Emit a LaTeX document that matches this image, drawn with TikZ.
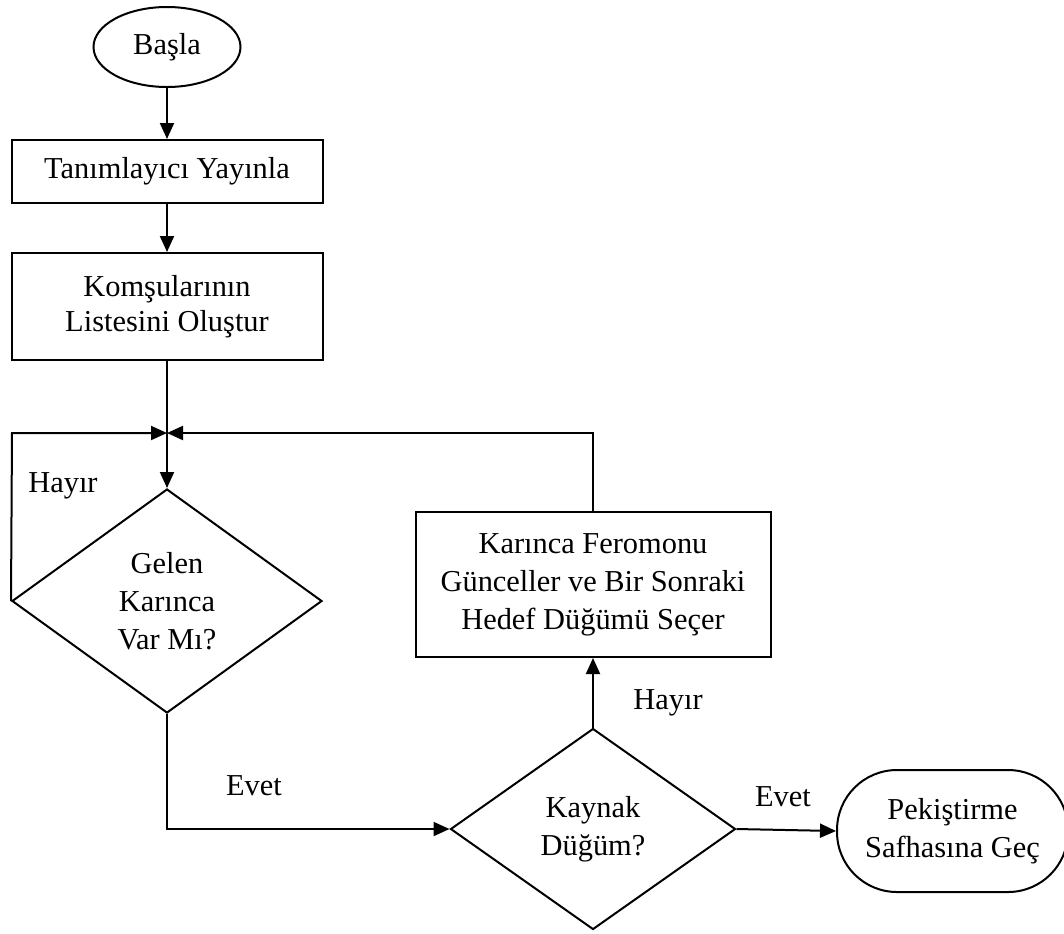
\documentclass[tikz,border=0pt]{standalone}
\usepackage{fontspec}
\setmainfont{Liberation Serif}
\usetikzlibrary{shapes.geometric,arrows.meta}

\begin{document}
\begin{tikzpicture}[x=0.5pt,y=-0.5pt,line width=1pt,
    font=\fontsize{15.2pt}{19pt}\selectfont,
    kutu/.style={draw,rectangle,align=center,inner sep=0pt},
    karar/.style={draw,diamond,align=center,inner sep=0pt},
    ok/.style={-{Triangle[length=8pt,width=7pt]}}]
      \useasboundingbox (0,0) rectangle (1064,933);
      \node [draw,ellipse,minimum width=73.5pt,minimum height=40pt,inner sep=0pt] (basla) at (167,47) {Başla};
      \node [kutu,minimum width=155.5pt,minimum height=31.5pt] (tanim) at (167,171.5) {Tanımlayıcı Yayınla};
      \node [kutu,minimum width=155.5pt,minimum height=53.5pt,font=\fontsize{15.2pt}{17.5pt}\selectfont] (komsu) at (167,306.5) {Komşularının\\Listesini Oluştur};
      \node [karar,minimum width=155pt,minimum height=112pt] (gelen) at (167,601) {Gelen\\Karınca\\Var Mı?};
      \node [kutu,minimum width=177.5pt,minimum height=72.5pt] (karinca) at (593,584.5) {Karınca Feromonu\\Günceller ve Bir Sonraki\\Hedef Düğümü Seçer};
      \node [karar,minimum width=142.5pt,minimum height=100.5pt] (kaynak) at (593,829) {Kaynak\\Düğüm?};
      \node [draw,rectangle,rounded corners=30pt,align=center,inner sep=0pt,minimum width=115.5pt,minimum height=61pt] (pekis) at (952.5,831) {Pekiştirme\\Safhasına Geç};
      \coordinate (j)  at (167,433);
      \coordinate (jl) at (12,433);

      \draw [ok] (basla) -- (tanim);
      \draw [ok] (tanim) -- (komsu);
      \draw (komsu) -- (j);
      \draw [ok] (j) -- (gelen);
      \draw [ok] (gelen.west) -- (jl) -- (j);
      \draw [ok] (karinca.north) |- (j);
      \draw [ok] (gelen.south) |- (kaynak.west);
      \draw [ok] (kaynak) -- (karinca);
      \draw [ok] (kaynak.east) -- (pekis.west);

      \node (hayir1) at (63,486) {Hayır};
      \node (evet1) at (254,786) {Evet};
      \node (hayir2) at (668,703) {Hayır};
      \node (evet2) at (783,797) {Evet};
    \end{tikzpicture}
\end{document}
